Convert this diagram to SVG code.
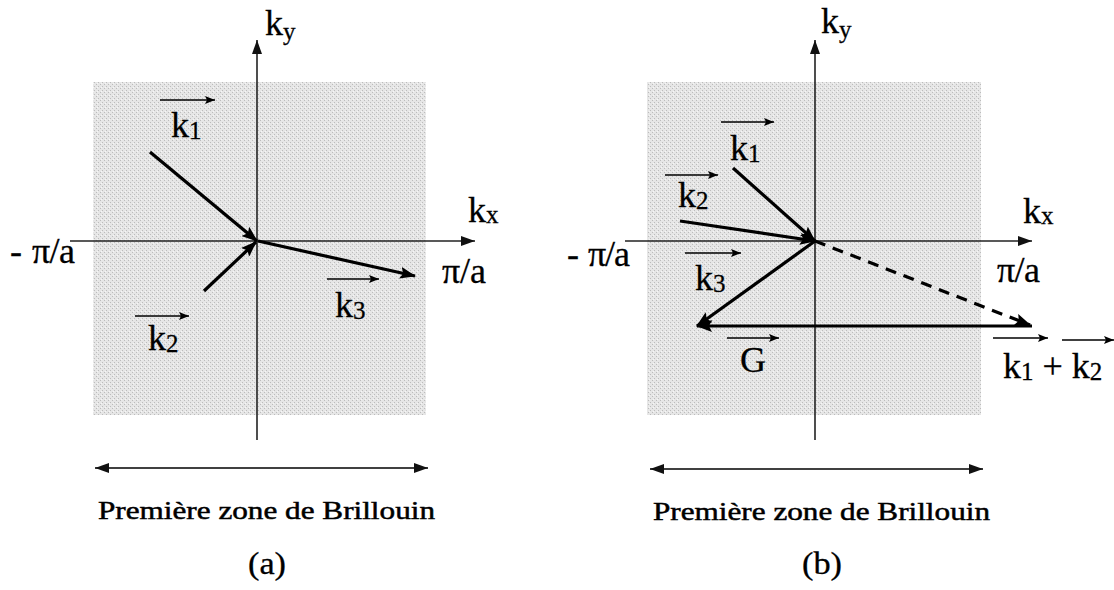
<svg xmlns="http://www.w3.org/2000/svg" width="1114" height="590" viewBox="0 0 1114 590">
<defs>
<pattern id="stip" width="4" height="4" patternUnits="userSpaceOnUse">
<rect width="4" height="4" fill="#e6e6e6"/>
<rect x="0" y="0" width="1" height="1" fill="#bcbcbc"/>
<rect x="2" y="2" width="1" height="1" fill="#bcbcbc"/>
<rect x="1" y="3" width="1" height="1" fill="#f6f6f6"/>
</pattern>
<marker id="ah" markerUnits="userSpaceOnUse" markerWidth="16" markerHeight="12" refX="15" refY="6" orient="auto">
<path d="M0,0 L16,6 L0,12 L3,6 z" fill="#000"/>
</marker>
<marker id="ax" markerUnits="userSpaceOnUse" markerWidth="14" markerHeight="10" refX="14" refY="5" orient="auto">
<path d="M0,0 L14,5 L0,10 z" fill="#111"/>
</marker>
<marker id="axs" markerUnits="userSpaceOnUse" markerWidth="14" markerHeight="10" refX="0" refY="5" orient="auto">
<path d="M14,0 L0,5 L14,10 z" fill="#111"/>
</marker>
<marker id="oa" markerUnits="userSpaceOnUse" markerWidth="10" markerHeight="8" refX="10" refY="4" orient="auto">
<path d="M0,0 L10,4 L0,8 L2,4 z" fill="#000"/>
</marker>
</defs>
<style>
text{fill:#000;stroke:#000;stroke-width:0.3}
.k{font-size:36px}
.s{font-size:25px}
.cap{font-size:26px;stroke-width:0.5}
.axis{stroke:#222;stroke-width:1.6;fill:none}
.vec{stroke:#000;stroke-width:3.2;fill:none;marker-end:url(#ah)}
.ov{stroke:#000;stroke-width:1.6;fill:none;marker-end:url(#oa)}
.zone{stroke:#000;stroke-width:1.6;fill:none;marker-end:url(#ax);marker-start:url(#axs)}
</style>

<g id="panel-a">
<rect id="zone-a" x="93" y="82" width="333" height="333" fill="url(#stip)"/>
<g id="axes-a">
<line class="axis" x1="257" y1="440" x2="257" y2="40" marker-end="url(#ax)"/>
<line class="axis" x1="70" y1="241" x2="475" y2="241" marker-end="url(#ax)"/>
</g>
<g id="connectors-a">
<line class="vec" x1="150" y1="152" x2="257" y2="241"/>
<line class="vec" x1="204" y1="291" x2="256" y2="242"/>
<line class="vec" x1="258" y1="241" x2="415" y2="276"/>
<line class="ov" x1="160" y1="100" x2="215" y2="100"/>
<line class="ov" x1="135" y1="316" x2="189" y2="316"/>
<line class="ov" x1="327" y1="279" x2="379" y2="279"/>
<line class="zone" x1="95" y1="468" x2="428" y2="468"/>
</g>
<g id="labels-a" font-family="'Liberation Serif', 'Times New Roman', 'DejaVu Serif', serif">
<text class="k" x="265" y="35">k<tspan class="s" dy="5">y</tspan></text>
<text class="k" x="468" y="222">k<tspan class="s" dy="1">x</tspan></text>
<text class="k" x="442" y="283" textLength="44">π/a</text>
<text class="k" x="10" y="263">-</text>
<text class="k" x="32" y="263" textLength="43">π/a</text>
<text class="k" x="171" y="137">k<tspan class="s" dy="2">1</tspan></text>
<text class="k" x="148" y="350">k<tspan class="s" dy="2">2</tspan></text>
<text class="k" x="335" y="317">k<tspan class="s" dy="2">3</tspan></text>
<text class="cap" x="98" y="519" textLength="337" lengthAdjust="spacingAndGlyphs">Première zone de Brillouin</text>
<text x="248" y="574" font-size="32" textLength="38" lengthAdjust="spacingAndGlyphs">(a)</text>
</g>
</g>

<g id="panel-b">
<rect id="zone-b" x="647" y="82" width="334" height="333" fill="url(#stip)"/>
<g id="axes-b">
<line class="axis" x1="815" y1="440" x2="815" y2="40" marker-end="url(#ax)"/>
<line class="axis" x1="625" y1="241" x2="1032" y2="241" marker-end="url(#ax)"/>
</g>
<g id="connectors-b">
<line class="vec" x1="733" y1="168" x2="815" y2="241"/>
<line class="vec" x1="680" y1="221" x2="815" y2="241"/>
<line class="vec" x1="815" y1="241" x2="697" y2="326"/>
<line class="vec" x1="1032" y1="326" x2="697" y2="326"/>
<line class="vec" x1="815" y1="241" x2="1030" y2="325" stroke-dasharray="11 8"/>
<line class="ov" x1="721" y1="122" x2="774" y2="122"/>
<line class="ov" x1="665" y1="175" x2="718" y2="175"/>
<line class="ov" x1="685" y1="253" x2="741" y2="253"/>
<line class="ov" x1="727" y1="338" x2="779" y2="338"/>
<line class="ov" x1="993" y1="338" x2="1048" y2="338"/>
<line class="ov" x1="1062" y1="340" x2="1114" y2="340"/>
<line class="zone" x1="650" y1="469" x2="983" y2="469"/>
</g>
<g id="labels-b" font-family="'Liberation Serif', 'Times New Roman', 'DejaVu Serif', serif">
<text class="k" x="821" y="33">k<tspan class="s" dy="5">y</tspan></text>
<text class="k" x="1023" y="223">k<tspan class="s" dy="1">x</tspan></text>
<text class="k" x="997" y="282" textLength="43">π/a</text>
<text class="k" x="567" y="266">-</text>
<text class="k" x="588" y="266" textLength="42">π/a</text>
<text class="k" x="730" y="160">k<tspan class="s" dy="2">1</tspan></text>
<text class="k" x="678" y="207">k<tspan class="s" dy="2">2</tspan></text>
<text class="k" x="695" y="290">k<tspan class="s" dy="2">3</tspan></text>
<text class="k" x="740" y="372">G</text>
<text class="k" x="1003" y="378">k<tspan class="s" dy="2">1</tspan><tspan dy="-2"> + k</tspan><tspan class="s" dy="2">2</tspan></text>
<text class="cap" x="653" y="520" textLength="337" lengthAdjust="spacingAndGlyphs">Première zone de Brillouin</text>
<text x="802" y="574" font-size="32" textLength="40" lengthAdjust="spacingAndGlyphs">(b)</text>
</g>
</g>
</svg>
